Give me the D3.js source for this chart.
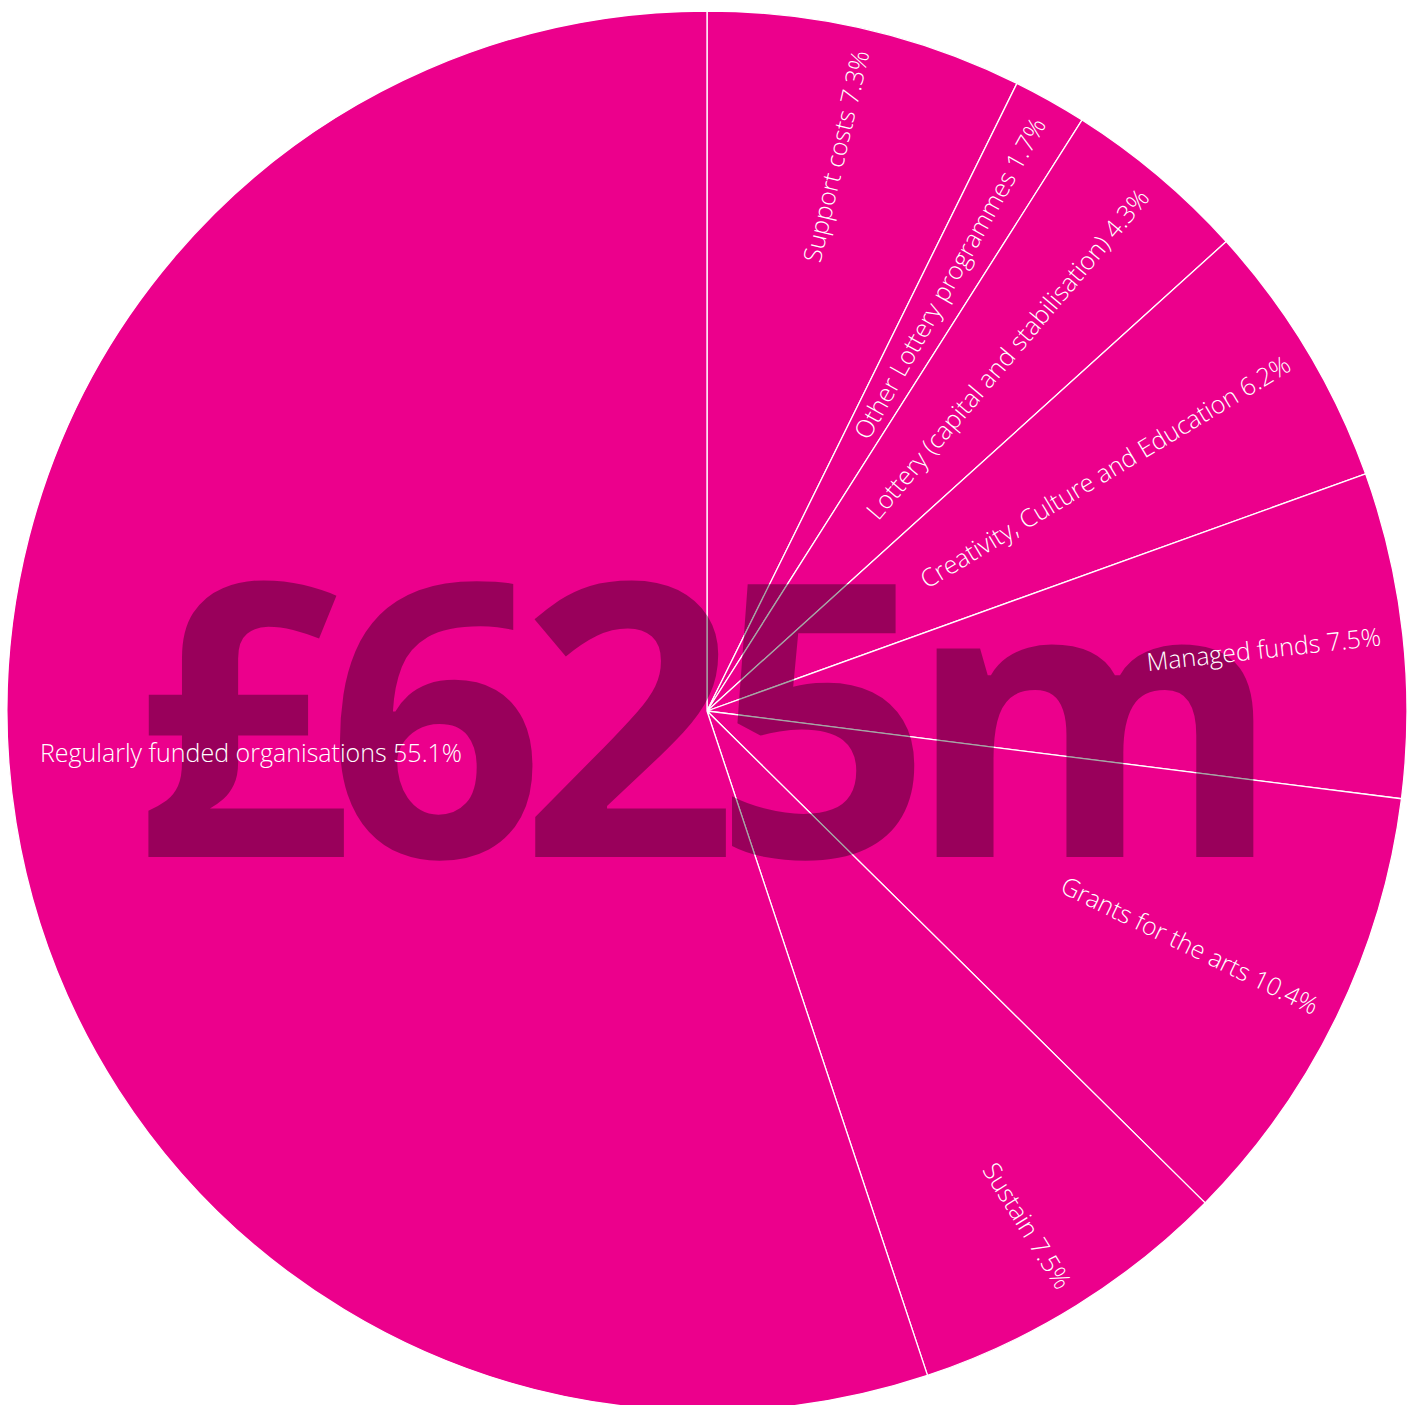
<!DOCTYPE html>
<html>
<head>
<meta charset="utf-8">
<script src="https://cdn.jsdelivr.net/npm/d3@7"></script>
<style>
  html, body { margin: 0; padding: 0; background: #fff; }
  svg { display: block; }
</style>
</head>
<body>
<svg id="chart" width="1420" height="1405"></svg>
<script>
// Budget share by funding stream, clockwise from 12 o'clock
const categories = [
  "Support costs",
  "Other Lottery programmes",
  "Lottery (capital and stabilisation)",
  "Creativity, Culture and Education",
  "Managed funds",
  "Grants for the arts",
  "Sustain",
  "Regularly funded organisations"
];
const shares = [7.3, 1.7, 4.3, 6.2, 7.5, 10.4, 7.5, 55.1];
const totalLabel = "£625m";

const width = 1420, height = 1405;
const cx = 707, cy = 711, radius = 700;
const pink = "#EC008C";

const svg = d3.select("#chart");
const sliceLayer = svg.append("g").attr("transform", `translate(${cx},${cy})`);
const totalLayer = svg.append("g");
const labelLayer = svg.append("g").attr("transform", `translate(${cx},${cy})`);

const data = categories.map((name, i) => ({ name, value: shares[i] }));

const pie = d3.pie().sort(null).value(d => d.value);
const arcs = pie(data);
const arc = d3.arc().innerRadius(0).outerRadius(radius);

// Slices with thin white dividers
sliceLayer.selectAll("path.slice")
  .data(arcs)
  .join("path")
  .attr("class", "slice")
  .attr("d", arc)
  .attr("fill", pink)
  .attr("stroke", "#fff")
  .attr("stroke-width", 1.3)
  .attr("stroke-linejoin", "round");

// Large total, darkening the slices and dividers beneath it
totalLayer.append("text")
  .attr("x", 695)
  .attr("y", 857)
  .attr("text-anchor", "middle")
  .attr("font-family", "'Open Sans', 'Noto Sans', sans-serif")
  .attr("font-weight", 700)
  .attr("font-size", 382)
  .attr("letter-spacing", "-25px")
  .attr("fill", "#000")
  .attr("fill-opacity", 0.35)
  .text(totalLabel);

// Radial slice labels
const labelR = 678;
const deg = a => a * 180 / Math.PI;
labelLayer.selectAll("text.label")
  .data(arcs)
  .join("text")
  .attr("class", "label")
  .attr("font-family", "'Open Sans', 'Noto Sans', sans-serif")
  .attr("font-weight", 300)
  .attr("font-size", 25)
  .attr("fill", "#fff")
  .each(function (d) {
    const mid = (d.startAngle + d.endAngle) / 2;
    const sel = d3.select(this);
    if (mid < Math.PI) {
      // right half: text runs outward along the slice's mid ray
      const x = labelR * Math.sin(mid);
      const y = -labelR * Math.cos(mid);
      sel.attr("text-anchor", "end")
        .attr("dy", "0.35em")
        .attr("transform", `translate(${x},${y}) rotate(${deg(mid) - 90})`);
    } else {
      // left half: horizontal, starting near the rim
      sel.attr("text-anchor", "start")
        .attr("transform", `translate(${-radius + 33},${51})`);
    }
  })
  .text(d => `${d.data.name} ${d.data.value.toFixed(1)}%`);
</script>
</body>
</html>
